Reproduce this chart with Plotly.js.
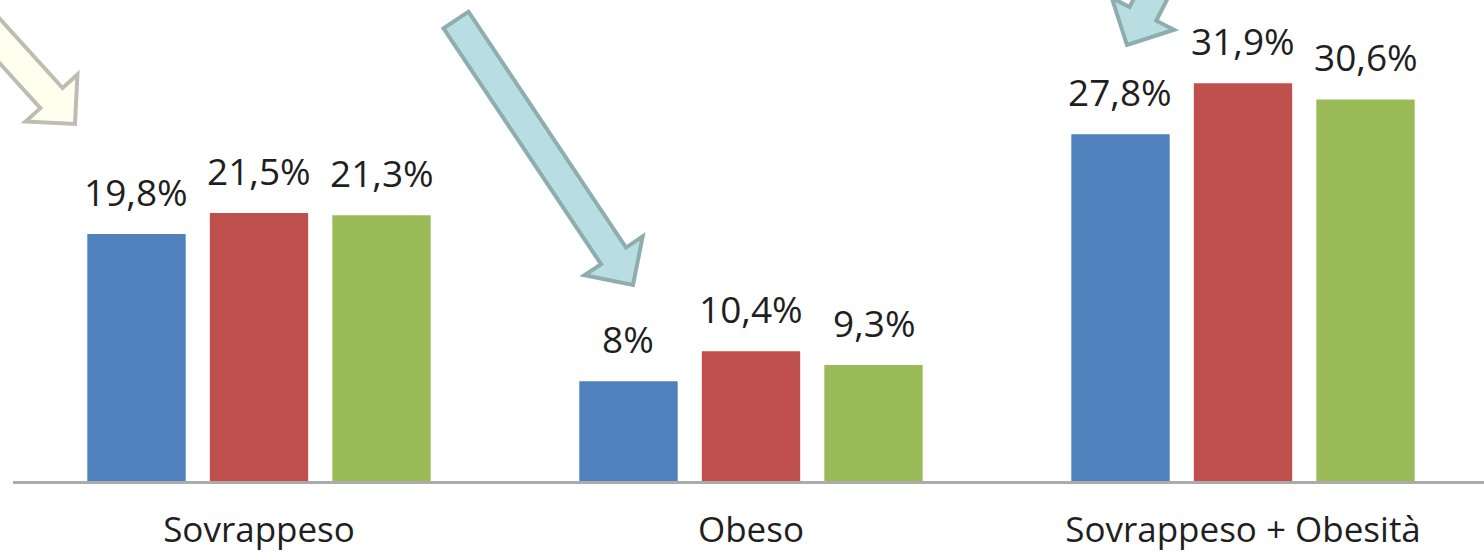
<!DOCTYPE html>
<html>
<head>
<meta charset="utf-8">
<script src="https://cdn.plot.ly/plotly-3.0.1.min.js"></script>
<style>html,body{margin:0;padding:0;background:#fff;}#chart{width:1484px;height:555px;}</style>
</head>
<body>
<div id="chart"></div>
<script>
// ---- data ----
const categories = ["Sovrappeso", "Obeso", "Sovrappeso + Obesità"];
const seriesNames = ["Serie 1", "Serie 2", "Serie 3"];
const serie1 = [19.8, 8, 27.8];
const serie2 = [21.5, 10.4, 31.9];
const serie3 = [21.3, 9.3, 30.6];
const seriesColors = ["#4F81BD", "#C0504D", "#9BBB59"];

// ---- layout constants ----
const W = 1484, H = 555;
const M = {l: 13, r: 0, t: 0, b: 74};
const plotW = W - M.l - M.r, plotH = H - M.t - M.b;
const yMax = 38.57;
const bargap = 0.253, bargroupgap = 0.197;
const FONT = "Open Sans, Liberation Sans, sans-serif";
const TXT = "#1f1f1f";

const allSeries = [serie1, serie2, serie3];
const fmt = v => String(v).replace('.', ',') + '%';

const traces = allSeries.map((vals, j) => ({
  type: 'bar',
  name: seriesNames[j],
  x: categories,
  y: vals,
  marker: {color: seriesColors[j], line: {width: 0}},
  hoverinfo: 'x+y'
}));

// value labels as annotations (placed above bars with Excel-like gap)
const slot = (1 - bargap) / allSeries.length;
const annotations = [];
allSeries.forEach((vals, j) => {
  vals.forEach((v, i) => {
    annotations.push({
      xref: 'x', yref: 'y',
      x: i + (j - (allSeries.length - 1) / 2) * slot,
      y: v,
      text: fmt(v),
      showarrow: false,
      yanchor: 'bottom', xanchor: 'center',
      yshift: 15,
      font: {family: FONT, size: 37, color: TXT}
    });
  });
});

// decorative block arrows (pixel geometry converted to paper coordinates)
function px2paper(X, Y) {
  return [(X - M.l) / plotW, (M.t + plotH - Y) / plotH];
}
function arrowPath(tail, tip) {
  const dx = tip[0] - tail[0], dy = tip[1] - tail[1];
  const L = Math.hypot(dx, dy);
  const d = [dx / L, dy / L], n = [-d[1], d[0]];
  const sw = 15, hw = 35, hl = 35;
  const B = [tip[0] - hl * d[0], tip[1] - hl * d[1]];
  const pts = [
    [tail[0] + sw * n[0], tail[1] + sw * n[1]],
    [B[0] + sw * n[0], B[1] + sw * n[1]],
    [B[0] + hw * n[0], B[1] + hw * n[1]],
    tip,
    [B[0] - hw * n[0], B[1] - hw * n[1]],
    [B[0] - sw * n[0], B[1] - sw * n[1]],
    [tail[0] - sw * n[0], tail[1] - sw * n[1]]
  ].map(p => px2paper(p[0], p[1]));
  return 'M ' + pts.map(p => p[0].toFixed(5) + ',' + p[1].toFixed(5)).join(' L ') + ' Z';
}
const shapes = [
  {type: 'path', xref: 'paper', yref: 'paper', layer: 'above',
   path: arrowPath([-110, -80], [75, 124]),
   fillcolor: '#FFFFF0', line: {color: '#BDBDB3', width: 4}},
  {type: 'path', xref: 'paper', yref: 'paper', layer: 'above',
   path: arrowPath([456, 20], [633, 285]),
   fillcolor: '#B9DEE1', line: {color: '#8FADAF', width: 4}},
  {type: 'path', xref: 'paper', yref: 'paper', layer: 'above',
   path: arrowPath([1218, -133], [1127, 45]),
   fillcolor: '#B9DEE1', line: {color: '#8FADAF', width: 4}}
];

const layout = {
  width: W, height: H,
  margin: M,
  paper_bgcolor: '#ffffff', plot_bgcolor: '#ffffff',
  showlegend: false,
  barmode: 'group',
  bargap: bargap, bargroupgap: bargroupgap,
  font: {family: FONT, color: TXT},
  xaxis: {
    type: 'category',
    range: [-0.5, -0.5 + plotW / 492],
    showline: true, linecolor: '#ABABAB', linewidth: 2.5,
    showgrid: false, zeroline: false, ticks: '',
    tickfont: {family: FONT, size: 35, color: TXT},
    ticklabelstandoff: 16,
    automargin: false, fixedrange: true
  },
  yaxis: {
    range: [0, yMax],
    visible: false, showgrid: false, zeroline: false,
    automargin: false, fixedrange: true
  },
  annotations: annotations,
  shapes: shapes
};

Plotly.newPlot('chart', traces, layout, {displayModeBar: false, staticPlot: true});
</script>
</body>
</html>
